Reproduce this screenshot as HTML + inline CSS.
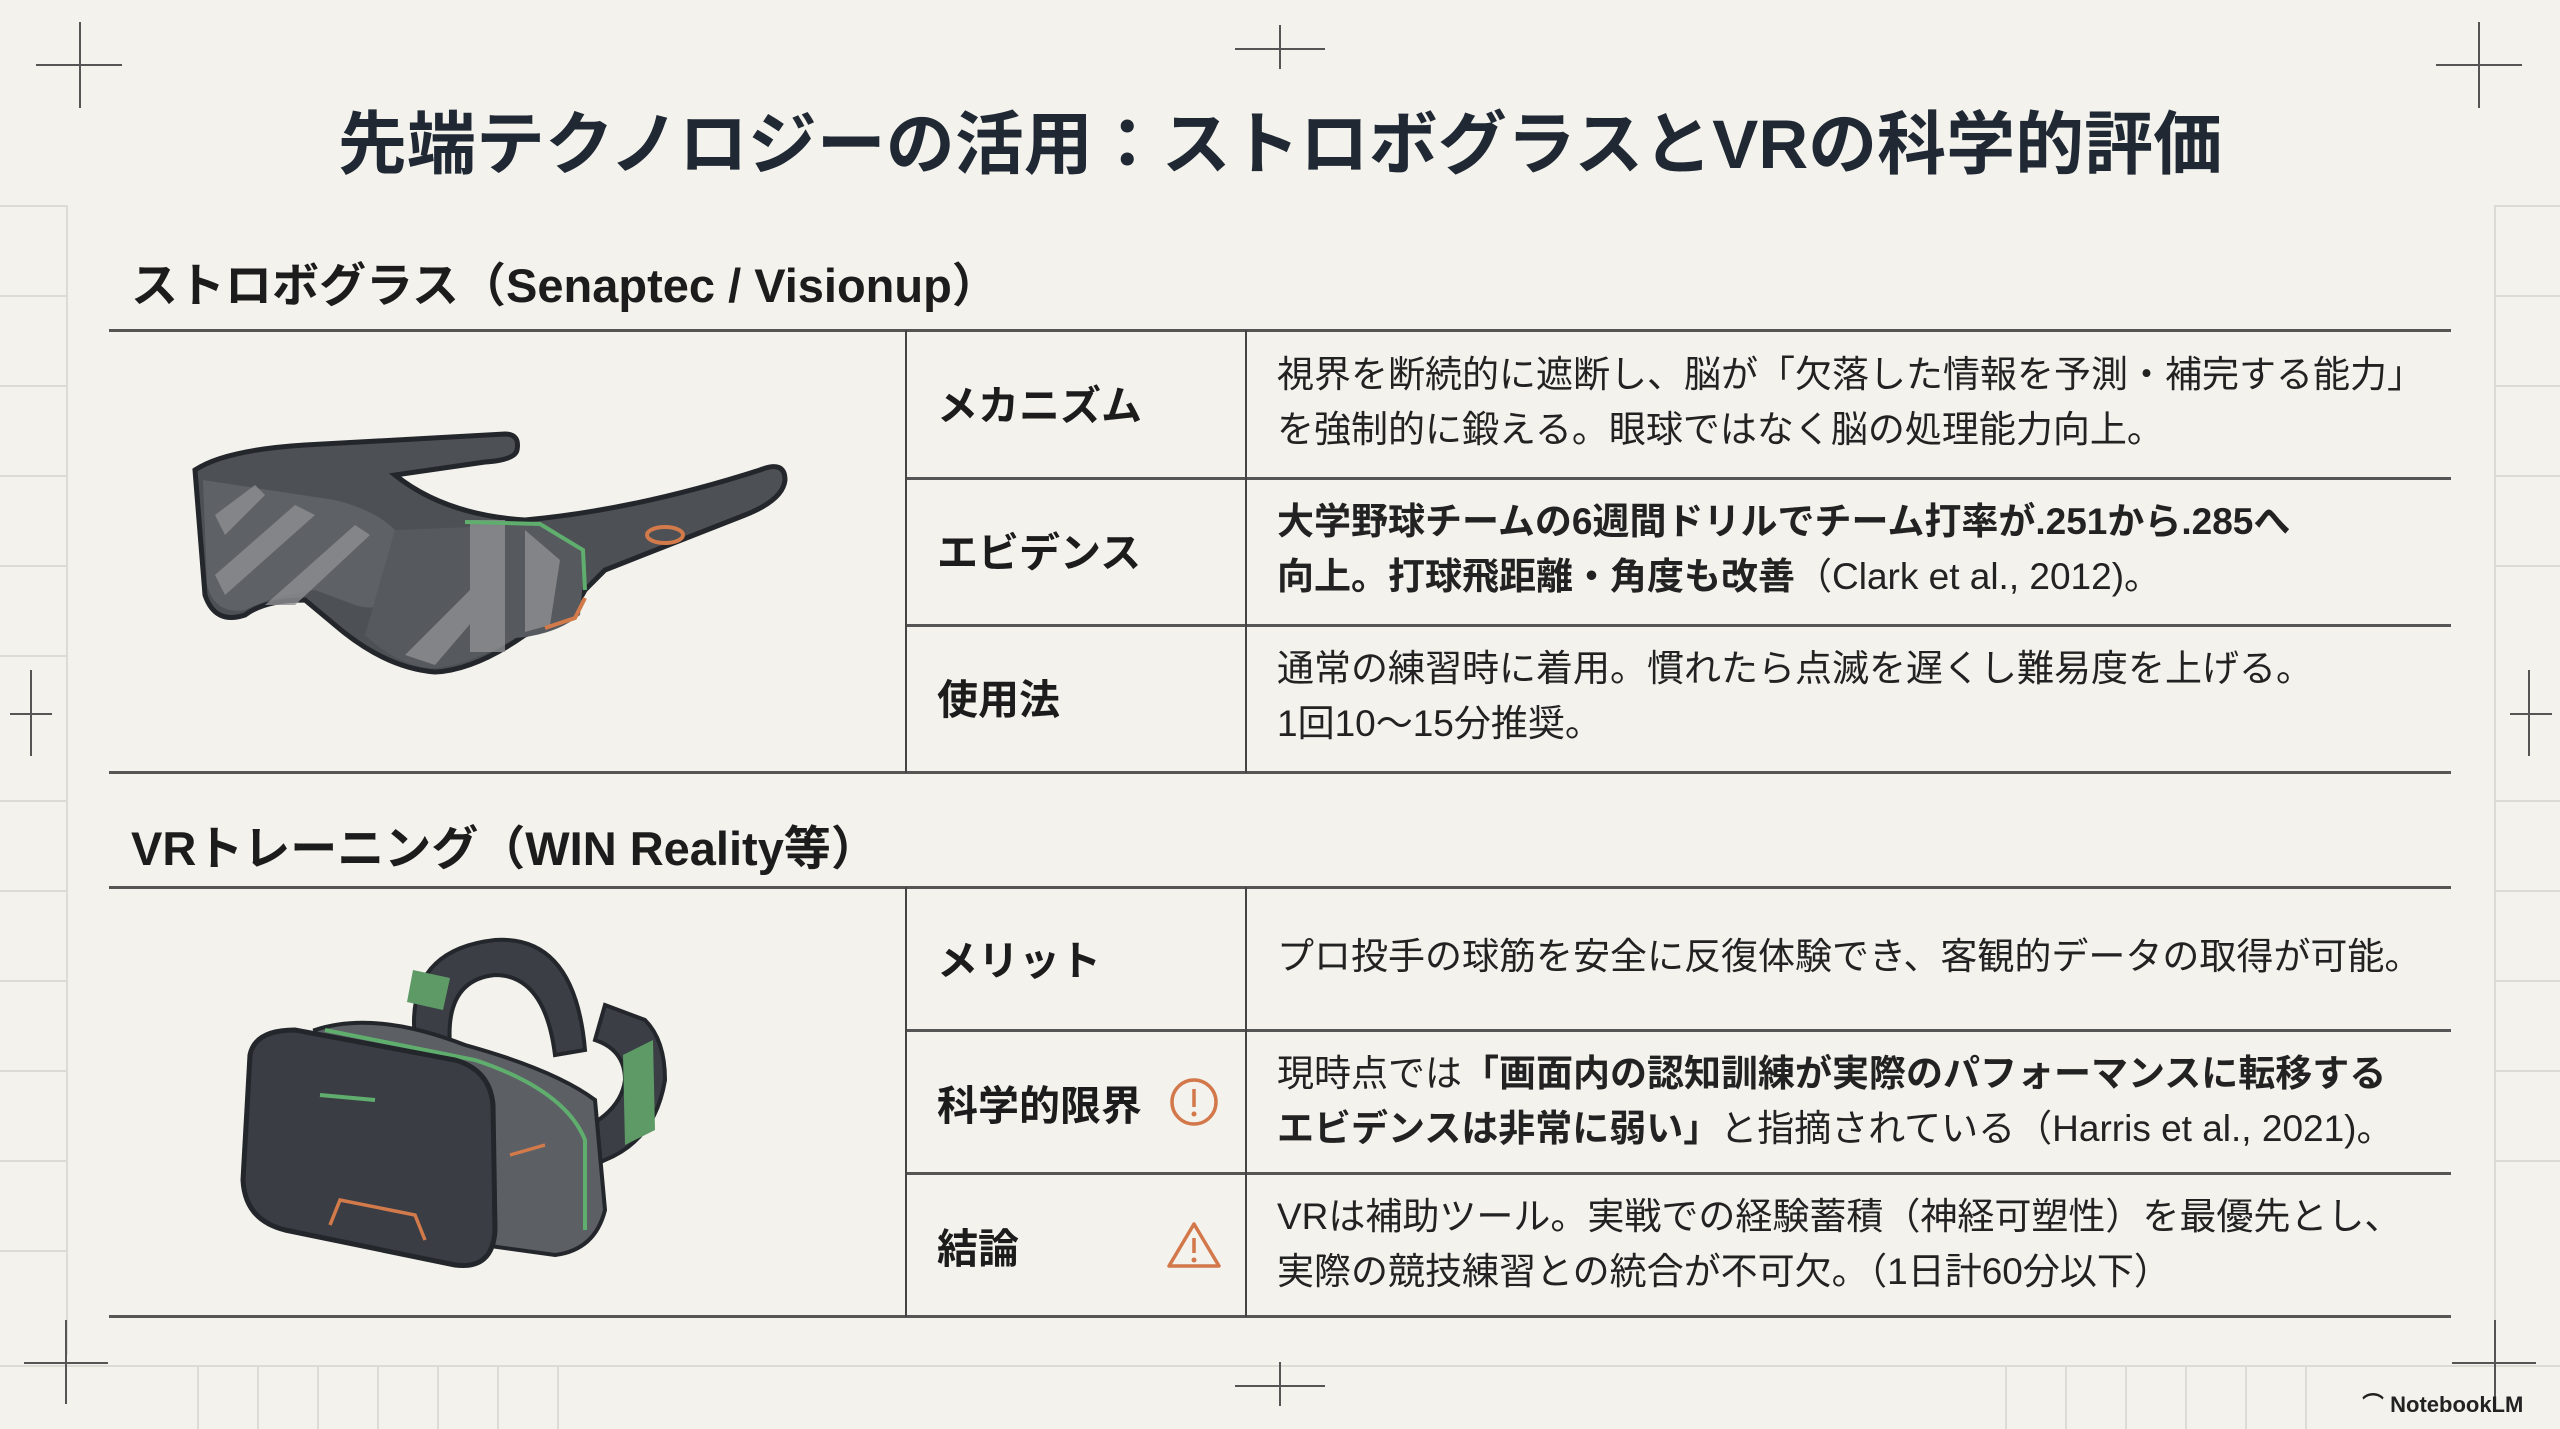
<!DOCTYPE html>
<html><head><meta charset="utf-8">
<style>
html,body{margin:0;padding:0}
body{width:2560px;height:1429px;position:relative;overflow:hidden;background:#f3f2ed;font-family:"Liberation Sans","Noto Sans CJK JP",sans-serif;color:#1c1c1c}
.a{position:absolute}
.t{white-space:nowrap}
.title{left:0;width:2560px;top:88px;text-align:center;font-size:69px;font-weight:700;color:#1f2833}
.h{font-size:47px;font-weight:700;color:#1c1c1c}
.hl{position:absolute;height:3px;background:#555}
.vl{position:absolute;width:2px;background:#444}
.lab{font-size:41px;font-weight:700}
.body{font-size:37px;line-height:55px;color:#222}
.b{font-weight:700}
.g{position:absolute;background:#dcdbd6}
.c{position:absolute;background:#555}
</style></head><body>
<div class="g" style="left:0;top:205px;width:66px;height:2px"></div>
<div class="g" style="left:0;top:295px;width:66px;height:2px"></div>
<div class="g" style="left:0;top:385px;width:66px;height:2px"></div>
<div class="g" style="left:0;top:475px;width:66px;height:2px"></div>
<div class="g" style="left:0;top:565px;width:66px;height:2px"></div>
<div class="g" style="left:0;top:655px;width:66px;height:2px"></div>
<div class="g" style="left:0;top:800px;width:66px;height:2px"></div>
<div class="g" style="left:0;top:890px;width:66px;height:2px"></div>
<div class="g" style="left:0;top:980px;width:66px;height:2px"></div>
<div class="g" style="left:0;top:1070px;width:66px;height:2px"></div>
<div class="g" style="left:0;top:1160px;width:66px;height:2px"></div>
<div class="g" style="left:0;top:1250px;width:66px;height:2px"></div>
<div class="g" style="left:66px;top:205px;width:2px;height:1150px"></div>
<div class="g" style="left:2494px;top:205px;width:66px;height:2px"></div>
<div class="g" style="left:2494px;top:295px;width:66px;height:2px"></div>
<div class="g" style="left:2494px;top:385px;width:66px;height:2px"></div>
<div class="g" style="left:2494px;top:475px;width:66px;height:2px"></div>
<div class="g" style="left:2494px;top:565px;width:66px;height:2px"></div>
<div class="g" style="left:2494px;top:800px;width:66px;height:2px"></div>
<div class="g" style="left:2494px;top:890px;width:66px;height:2px"></div>
<div class="g" style="left:2494px;top:980px;width:66px;height:2px"></div>
<div class="g" style="left:2494px;top:1070px;width:66px;height:2px"></div>
<div class="g" style="left:2494px;top:1160px;width:66px;height:2px"></div>
<div class="g" style="left:2494px;top:205px;width:2px;height:1150px"></div>
<div class="g" style="left:0;top:1365px;width:2560px;height:2px"></div>
<div class="g" style="left:197px;top:1365px;width:2px;height:64px"></div>
<div class="g" style="left:257px;top:1365px;width:2px;height:64px"></div>
<div class="g" style="left:317px;top:1365px;width:2px;height:64px"></div>
<div class="g" style="left:377px;top:1365px;width:2px;height:64px"></div>
<div class="g" style="left:437px;top:1365px;width:2px;height:64px"></div>
<div class="g" style="left:497px;top:1365px;width:2px;height:64px"></div>
<div class="g" style="left:557px;top:1365px;width:2px;height:64px"></div>
<div class="g" style="left:2005px;top:1365px;width:2px;height:64px"></div>
<div class="g" style="left:2065px;top:1365px;width:2px;height:64px"></div>
<div class="g" style="left:2125px;top:1365px;width:2px;height:64px"></div>
<div class="g" style="left:2185px;top:1365px;width:2px;height:64px"></div>
<div class="g" style="left:2245px;top:1365px;width:2px;height:64px"></div>
<div class="g" style="left:2305px;top:1365px;width:2px;height:64px"></div>
<div class="c" style="left:36px;top:64px;width:86px;height:2px"></div><div class="c" style="left:79px;top:22px;width:2px;height:86px"></div>
<div class="c" style="left:1235px;top:48px;width:90px;height:2px"></div><div class="c" style="left:1279px;top:25px;width:2px;height:44px"></div>
<div class="c" style="left:2436px;top:64px;width:86px;height:2px"></div><div class="c" style="left:2478px;top:22px;width:2px;height:86px"></div>
<div class="c" style="left:10px;top:713px;width:42px;height:2px"></div><div class="c" style="left:30px;top:670px;width:2px;height:86px"></div>
<div class="c" style="left:2510px;top:713px;width:42px;height:2px"></div><div class="c" style="left:2528px;top:670px;width:2px;height:86px"></div>
<div class="c" style="left:24px;top:1362px;width:84px;height:2px"></div><div class="c" style="left:65px;top:1320px;width:2px;height:84px"></div>
<div class="c" style="left:1235px;top:1385px;width:90px;height:2px"></div><div class="c" style="left:1279px;top:1362px;width:2px;height:44px"></div>
<div class="c" style="left:2452px;top:1362px;width:84px;height:2px"></div><div class="c" style="left:2494px;top:1320px;width:2px;height:84px"></div>

<div class="a t title">先端テクノロジーの活用：ストロボグラスとVRの科学的評価</div>

<div class="a t h" style="left:131px;top:247px">ストロボグラス（Senaptec / Visionup）</div>
<div class="hl" style="left:109px;top:329px;width:2342px"></div>
<div class="hl" style="left:906px;top:477px;width:1545px"></div>
<div class="hl" style="left:906px;top:624px;width:1545px"></div>
<div class="hl" style="left:109px;top:771px;width:2342px"></div>
<div class="vl" style="left:905px;top:330px;height:443px"></div>
<div class="vl" style="left:1245px;top:330px;height:443px"></div>

<div class="a t lab" style="left:937px;top:372px">メカニズム</div>
<div class="a t lab" style="left:937px;top:519px">エビデンス</div>
<div class="a t lab" style="left:937px;top:666px">使用法</div>
<div class="a t body" style="left:1277px;top:347px">視界を断続的に遮断し、脳が「欠落した情報を予測・補完する能力」<br>を強制的に鍛える。眼球ではなく脳の処理能力向上。</div>
<div class="a t body" style="left:1277px;top:494px"><span class="b">大学野球チームの6週間ドリルでチーム打率が.251から.285へ<br>向上。打球飛距離・角度も改善</span>（Clark et al., 2012)。</div>
<div class="a t body" style="left:1277px;top:641px">通常の練習時に着用。慣れたら点滅を遅くし難易度を上げる。<br>1回10〜15分推奨。</div>

<svg class="a" style="left:185px;top:420px" width="620" height="260" viewBox="0 0 620 260">
<path d="M10 50 Q40 30 120 25 L320 14 Q335 14 332 30 Q330 40 300 42 L210 55 Q260 95 340 100 Q450 90 575 50 Q600 40 600 60 Q598 80 560 95 L420 150 L400 170 Q385 200 340 215 Q290 250 250 252 Q200 248 150 205 L120 180 Q80 180 60 195 Q30 205 20 175 Z" fill="#4d5055" stroke="#23262b" stroke-width="5"/>
<path d="M18 60 L150 80 Q190 90 210 110 L220 165 Q200 195 170 185 L130 170 Q90 175 60 190 Q30 195 22 165 Z" fill="#5e6166"/>
<path d="M210 110 L360 104 L400 135 L395 195 Q370 215 330 218 Q285 245 250 248 Q215 248 180 215 Z" fill="#56595e"/>
<path d="M30 95 L70 65 L80 75 L40 115 Z M30 155 L110 85 L130 95 L40 175 Z M80 185 L170 105 L185 115 L110 185Z M285 100 L320 100 L320 232 L285 232Z M340 110 L375 140 L365 205 L340 212Z M220 235 L300 155 L310 175 L250 245Z" fill="#8d8f92" opacity=".8"/>
<path d="M280 102 L355 104 L398 130 L400 170" stroke="#5fae6e" stroke-width="4" fill="none"/>
<path d="M360 208 L390 198 L400 178" stroke="#d27a4a" stroke-width="4" fill="none"/>
<ellipse cx="480" cy="115" rx="18" ry="8" fill="none" stroke="#d27a4a" stroke-width="4"/>
</svg>

<div class="a t h" style="left:131px;top:810px">VRトレーニング（WIN Reality等）</div>
<div class="hl" style="left:109px;top:886px;width:2342px"></div>
<div class="hl" style="left:906px;top:1029px;width:1545px"></div>
<div class="hl" style="left:906px;top:1172px;width:1545px"></div>
<div class="hl" style="left:109px;top:1315px;width:2342px"></div>
<div class="vl" style="left:905px;top:887px;height:430px"></div>
<div class="vl" style="left:1245px;top:887px;height:430px"></div>

<div class="a t lab" style="left:937px;top:927px">メリット</div>
<div class="a t lab" style="left:937px;top:1072px">科学的限界</div>
<div class="a t lab" style="left:937px;top:1215px">結論</div>
<svg class="a" style="left:1168px;top:1076px" width="52" height="52"><circle cx="26" cy="26" r="22" fill="none" stroke="#d2784a" stroke-width="3.5"/><line x1="26" y1="13" x2="26" y2="31" stroke="#d2784a" stroke-width="3.5"/><circle cx="26" cy="38" r="2.5" fill="#d2784a"/></svg>
<svg class="a" style="left:1166px;top:1220px" width="56" height="50"><path d="M28 4 L53 46 L3 46 Z" fill="none" stroke="#d2784a" stroke-width="3.5" stroke-linejoin="round"/><line x1="28" y1="18" x2="28" y2="33" stroke="#d2784a" stroke-width="3.5"/><circle cx="28" cy="40" r="2.5" fill="#d2784a"/></svg>
<div class="a t body" style="left:1277px;top:929px">プロ投手の球筋を安全に反復体験でき、客観的データの取得が可能。</div>
<div class="a t body" style="left:1277px;top:1046px">現時点では<span class="b">「画面内の認知訓練が実際のパフォーマンスに転移する<br>エビデンスは非常に弱い」</span>と指摘されている（Harris et al., 2021)。</div>
<div class="a t body" style="left:1277px;top:1189px">VRは補助ツール。実戦での経験蓄積（神経可塑性）を最優先とし、<br>実際の競技練習との統合が不可欠。（1日計60分以下）</div>

<svg class="a" style="left:225px;top:930px" width="490" height="345" viewBox="0 0 490 345">
<path d="M250 260 Q320 260 380 230 Q430 210 440 150 Q440 110 420 90 L380 75 L370 110 Q400 120 400 150 Q395 190 330 210 Z" fill="#3b3f45" stroke="#23262b" stroke-width="4"/>
<path d="M190 110 Q180 20 270 10 Q350 5 360 120 L330 125 Q320 45 270 45 Q220 50 225 115 Z" fill="#3b3f45" stroke="#23262b" stroke-width="4"/>
<path d="M188 40 L225 48 L218 80 L182 72 Z" fill="#5e9a66"/>
<path d="M398 125 L428 110 L430 200 L400 215 Z" fill="#5e9a66"/>
<path d="M90 100 Q150 80 240 115 Q330 140 370 170 L380 280 Q370 320 330 325 L150 300 Z" fill="#5c5f64" stroke="#23262b" stroke-width="4"/>
<path d="M100 100 L250 130 Q340 160 360 210 L360 300" stroke="#5fae6e" stroke-width="4" fill="none"/>
<path d="M25 125 Q30 100 70 100 L230 130 Q265 140 268 175 L270 300 Q268 340 230 335 L60 300 Q20 290 18 250 Z" fill="#3a3e44" stroke="#23262b" stroke-width="5"/>
<path d="M95 165 L150 170" stroke="#5fae6e" stroke-width="4"/>
<path d="M105 295 L115 270 L190 285 L200 310" stroke="#d27a4a" stroke-width="3.5" fill="none"/>
<path d="M285 225 L320 215" stroke="#d27a4a" stroke-width="3.5"/>
</svg>

<div class="a t" style="left:2362px;top:1387px;font-size:22px;font-weight:700;color:#222">⌒ NotebookLM</div>
</body></html>
